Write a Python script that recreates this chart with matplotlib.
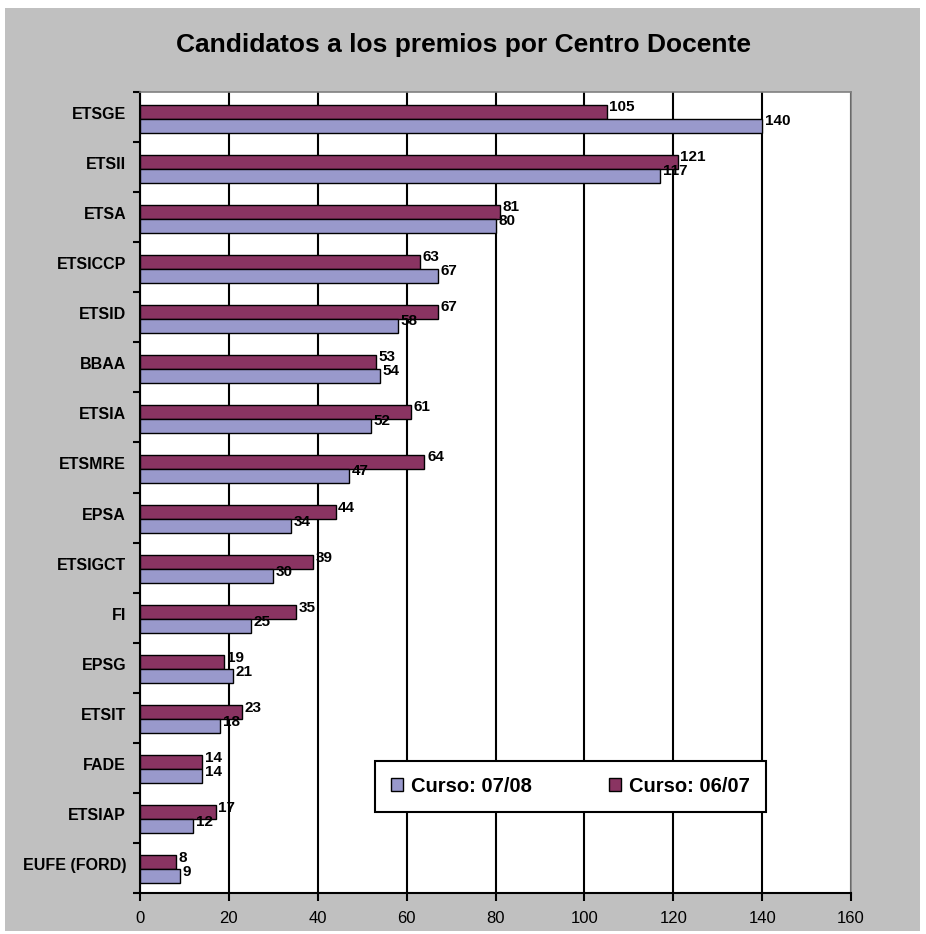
import matplotlib
matplotlib.use("Agg")
import matplotlib.pyplot as plt
from matplotlib import font_manager as fm
from matplotlib.patches import Rectangle
import numpy as np

centros = ["ETSGE", "ETSII", "ETSA", "ETSICCP", "ETSID", "BBAA", "ETSIA", "ETSMRE",
           "EPSA", "ETSIGCT", "FI", "EPSG", "ETSIT", "FADE", "ETSIAP", "EUFE (FORD)"]
curso_0708 = [140, 117, 80, 67, 58, 54, 52, 47, 34, 30, 25, 21, 18, 14, 12, 9]
curso_0607 = [105, 121, 81, 63, 67, 53, 61, 64, 44, 39, 35, 19, 23, 14, 17, 8]
xticks = [0, 20, 40, 60, 80, 100, 120, 140, 160]

names = {f.name for f in fm.fontManager.ttflist}
narrow = "Liberation Sans Narrow" if "Liberation Sans Narrow" in names else "Liberation Sans"
plt.rcParams['font.family'] = ['Liberation Sans', 'DejaVu Sans']

col_0708 = "#9999cc"
col_0607 = "#8a3462"

fig = plt.figure(figsize=(9.26, 9.34), dpi=100, facecolor="white")
fig.patches.append(Rectangle((5 / 926, 3 / 934), 915 / 926, 923 / 934,
                             transform=fig.transFigure, facecolor="#c0c0c0",
                             edgecolor="none", zorder=-10))

ax = fig.add_axes([140 / 926, 1 - 893 / 934, 711 / 926, 801 / 934])
ax.set_facecolor("white")

y = np.arange(len(centros))
h = 0.28
ax.barh(y - 0.11, curso_0607, height=h, color=col_0607, edgecolor="black",
        linewidth=1.0, label="Curso: 06/07", zorder=3)
ax.barh(y + 0.17, curso_0708, height=h, color=col_0708, edgecolor="black",
        linewidth=1.0, label="Curso: 07/08", zorder=3)

for i in range(len(centros)):
    ax.text(curso_0607[i] + 0.6, y[i] - 0.2, str(curso_0607[i]), fontsize=11,
            fontweight="bold", family=narrow, va="center", ha="left", zorder=4)
    ax.text(curso_0708[i] + 0.6, y[i] + 0.08, str(curso_0708[i]), fontsize=11,
            fontweight="bold", family=narrow, va="center", ha="left", zorder=4)

ax.set_xlim(0, 160)
ax.set_ylim(len(centros) - 0.5, -0.5)
ax.set_xticks(xticks)
ax.set_xticklabels([str(t) for t in xticks], family=narrow, fontsize=12)
ax.set_yticks(y - 0.08)
ax.set_yticklabels(centros, fontsize=11.5, fontweight="bold")
ax.set_yticks(np.arange(-0.5, len(centros)), minor=True)
ax.tick_params(axis="y", which="major", length=0, pad=10)
ax.tick_params(axis="y", which="minor", length=5, width=1.5, direction="out")
ax.tick_params(axis="x", length=6, width=1.5, direction="out", pad=7)

ax.grid(axis="x", color="black", linewidth=1.5, zorder=1)
ax.set_axisbelow(True)
for s in ["left", "bottom"]:
    ax.spines[s].set_linewidth(1.5)
    ax.spines[s].set_color("black")
for s in ["top", "right"]:
    ax.spines[s].set_linewidth(1.2)
    ax.spines[s].set_color("#808080")

handles, labels = ax.get_legend_handles_labels()
leg = ax.legend(handles[::-1], labels[::-1], ncol=2, loc="lower left",
                bbox_to_anchor=(0.33, 0.101, 0.551, 0.065), mode="expand",
                borderaxespad=0, frameon=True, fancybox=False, edgecolor="black",
                framealpha=1, prop={"weight": "bold", "size": 14.5},
                handlelength=0.6, handleheight=0.6, handletextpad=0.4,
                borderpad=0.8, columnspacing=4.0)
leg.get_frame().set_linewidth(1.5)
leg.set_zorder(5)

fig.text(0.5, 1 - 45 / 934, "Candidatos a los premios por Centro Docente",
         ha="center", va="center", fontsize=19, fontweight="bold")

fig.savefig("out.png", dpi=100, facecolor=fig.get_facecolor())
